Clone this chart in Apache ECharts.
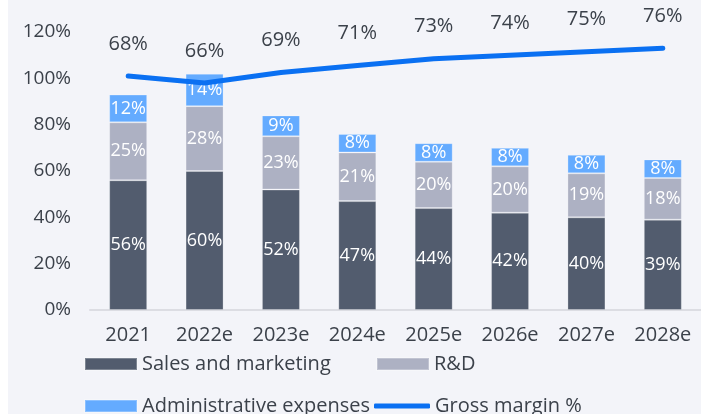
<!DOCTYPE html>
<html>
<head>
<meta charset="utf-8">
<script src="https://cdn.jsdelivr.net/npm/echarts@6/dist/echarts.min.js"></script>
<style>
  html, body { margin: 0; padding: 0; background: #fff; }
  #chart { position: absolute; left: 8px; top: 0; width: 693px; height: 414px; background: #f3f4f9; }
</style>
</head>
<body>
<div id="chart"></div>
<script>
const years = ['2021', '2022e', '2023e', '2024e', '2025e', '2026e', '2027e', '2028e'];
const salesMarketing = [56, 60, 52, 47, 44, 42, 40, 39];
const rnd = [25, 28, 23, 21, 20, 20, 19, 18];
const admin = [12, 14, 9, 8, 8, 8, 8, 8];
const grossMargin = [68, 66, 69, 71, 73, 74, 75, 76];
const yTicks = [0, 20, 40, 60, 80, 100, 120];

const textColor = '#3b414a';
const font = 'Open Sans';

const chart = echarts.init(document.getElementById('chart'));

const barLabel = {
  show: true,
  position: 'inside',
  color: '#fff',
  fontFamily: font,
  fontSize: 18,
  formatter: '{c}%',
};

function legendAt(name, left, top, extra) {
  return Object.assign({
    data: [name],
    left: left,
    top: top,
    padding: 0,
    itemWidth: 52,
    itemHeight: 12,
    itemGap: 0,
    icon: 'rect',
    textStyle: { color: textColor, fontFamily: font, fontSize: 20 },
    selectedMode: false,
  }, extra || {});
}

chart.setOption({
  animation: false,
  grid: { left: 82, width: 616, top: 32, bottom: 104 },
  legend: [
    legendAt('Sales and marketing', 76, 354),
    legendAt('R&D', 368, 354),
    legendAt('Administrative expenses', 76, 396),
    legendAt('Gross margin %', 366, 396, { itemWidth: 56, itemHeight: 5, icon: 'roundRect' }),
  ],
  xAxis: {
    type: 'category',
    data: years,
    axisLine: { lineStyle: { color: '#dcdde3', width: 2 } },
    axisTick: { show: false },
    axisLabel: { color: textColor, fontFamily: font, fontSize: 20, margin: 15 },
  },
  yAxis: [
    {
      type: 'value',
      min: yTicks[0],
      max: yTicks[yTicks.length - 1],
      interval: 20,
      axisLine: { show: false },
      axisTick: { show: false },
      splitLine: { show: false },
      axisLabel: { color: textColor, fontFamily: font, fontSize: 19, margin: 19, formatter: '{value}%' },
    },
    {
      type: 'value',
      min: 2 / 3,
      max: 80 + 2 / 3,
      show: false,
    },
  ],
  series: [
    {
      name: 'Sales and marketing',
      type: 'bar',
      stack: 'opex',
      barWidth: 38,
      data: salesMarketing,
      itemStyle: { color: '#525c6e', borderColor: 'rgba(255,255,255,0.25)', borderWidth: 1 },
      label: barLabel,
    },
    {
      name: 'R&D',
      type: 'bar',
      stack: 'opex',
      data: rnd,
      itemStyle: { color: '#adb1c3', borderColor: 'rgba(255,255,255,0.25)', borderWidth: 1 },
      label: barLabel,
    },
    {
      name: 'Administrative expenses',
      type: 'bar',
      stack: 'opex',
      data: admin,
      itemStyle: { color: '#64abff', borderColor: 'rgba(255,255,255,0.25)', borderWidth: 1 },
      label: barLabel,
    },
    {
      name: 'Gross margin %',
      type: 'line',
      yAxisIndex: 1,
      data: grossMargin,
      symbol: 'circle',
      symbolSize: 0,
      showSymbol: true,
      lineStyle: { color: '#0a70f2', width: 5, cap: 'round', join: 'round' },
      itemStyle: { color: '#0a70f2' },
      label: {
        show: true,
        position: 'top',
        distance: 22,
        color: textColor,
        fontFamily: font,
        fontSize: 20,
        formatter: '{c}%',
      },
    },
  ],
});
</script>
</body>
</html>
